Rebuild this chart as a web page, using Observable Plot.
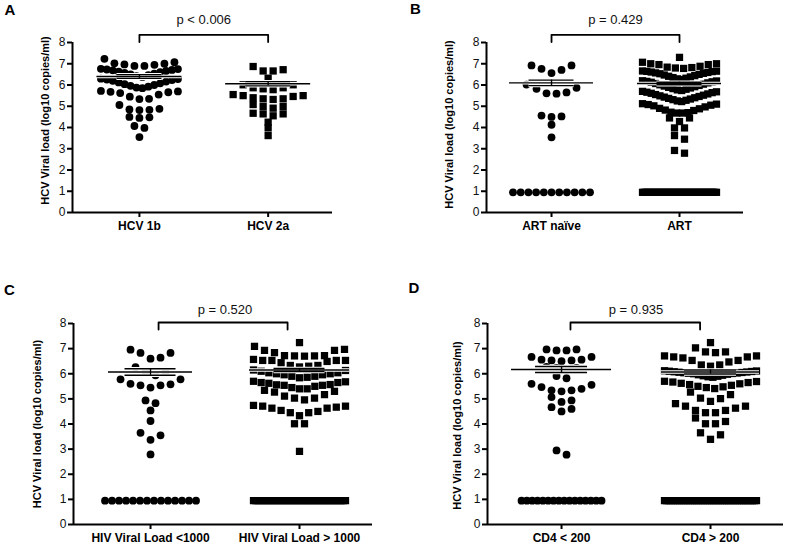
<!DOCTYPE html>
<html><head><meta charset="utf-8">
<script src="https://cdn.jsdelivr.net/npm/d3@7"></script>
<script src="https://cdn.jsdelivr.net/npm/@observablehq/plot@0.6"></script>
<style>
html,body{margin:0;padding:0;background:#fff;}
#wrap{position:relative;width:789px;height:545px;overflow:hidden;font-family:"Liberation Sans",Arial,sans-serif;}
.panel{position:absolute;}
.panel svg{overflow:visible;display:block;}
.panel [aria-label^="x-axis"] text{font-weight:bold;font-size:12px;fill:#000;}
.panel [aria-label^="y-axis"] text{font-size:12px;fill:#111;}
.panel [aria-label^="x-axis"] path,.panel [aria-label^="y-axis"] path,
.panel [aria-label^="x-axis"] line,.panel [aria-label^="y-axis"] line{stroke:#000;stroke-width:2px;}
</style></head>
<body><div id="wrap"></div>
<script>
// ---------- text ----------
const panelLetters = ["A", "B", "C", "D"];
const pLabels = ["p < 0.006", "p = 0.429", "p = 0.520", "p = 0.935"];
const yTitle = "HCV Viral load (log10 copies/ml)";
const yTicks = [0, 1, 2, 3, 4, 5, 6, 7, 8];
const catsA = ["HCV 1b", "HCV 2a"];
const catsB = ["ART naïve", "ART"];
const catsC = ["HIV Viral Load <1000", "HIV Viral Load > 1000"];
const catsD = ["CD4 < 200", "CD4 > 200"];

// ---------- values (log10 copies/ml) ----------
const hcv1b = [3.55, 3.98, 4.07, 4.45, 4.48, 4.50, 4.82, 4.83, 4.85, 4.88, 5.06, 5.34, 5.35, 5.45, 5.55, 5.62, 5.66, 5.68, 5.70, 5.72,
  5.85, 5.88, 5.92, 5.96, 6.00, 6.04, 6.08, 6.12, 6.16, 6.20, 6.23, 6.26, 6.28, 6.30,
  6.38, 6.42, 6.46, 6.50, 6.54, 6.57, 6.60, 6.63, 6.66, 6.69, 6.71, 6.73, 6.75, 6.76,
  6.90, 6.90, 6.95, 6.97, 7.00, 7.02, 7.07, 7.23];
const hcv2a = [3.62, 3.98, 4.25, 4.55, 4.64, 4.64, 4.67, 4.91, 4.99, 4.99, 5.08, 5.32, 5.35, 5.35, 5.40, 5.46, 5.50, 5.50, 5.55,
  5.78, 5.82, 5.87, 5.87, 6.01, 6.01, 6.32, 6.66, 6.66, 6.72, 6.87];

const artNaive = [0.95, 0.95, 0.95, 0.95, 0.95, 0.95, 0.95, 0.95, 0.95, 0.95, 0.95,
  3.54, 4.13, 4.50, 4.52, 4.56, 5.59, 5.61, 5.65, 5.82, 5.87, 6.02, 6.56, 6.71, 6.76, 6.92, 6.92];
const artTreated = [0.95, 0.95, 0.95, 0.95, 0.95, 0.95, 0.95, 0.95, 0.95, 0.95, 0.95, 0.95, 0.95, 0.95, 0.95, 0.95, 0.95, 0.95, 0.95, 0.95,
  0.95, 0.95, 0.95, 0.95, 0.95, 0.95, 0.95, 0.95, 0.95, 0.95, 0.95, 0.95, 0.95, 0.95, 0.95, 0.95, 0.95, 0.95, 0.95, 0.95,
  2.79, 2.92, 3.45, 3.62, 3.98, 3.98, 4.28, 4.45, 4.45,
  4.68, 4.68, 4.70, 4.72, 4.80, 4.82, 4.88, 4.90, 4.97, 5.02, 5.05, 5.08, 5.10, 5.12,
  5.22, 5.25, 5.28, 5.31, 5.34, 5.37, 5.40, 5.43, 5.46, 5.49, 5.52, 5.55, 5.58, 5.61, 5.64, 5.66, 5.68, 5.70,
  5.74, 5.77, 5.80, 5.83, 5.86, 5.89, 5.92, 5.95, 5.98, 6.01, 6.04, 6.07, 6.10, 6.13, 6.15, 6.17, 6.19, 6.20,
  6.26, 6.29, 6.32, 6.35, 6.38, 6.41, 6.44, 6.47, 6.50, 6.53, 6.55, 6.57, 6.59, 6.61, 6.63, 6.64, 6.65, 6.66,
  6.78, 6.80, 6.82, 6.84, 6.88, 6.96, 6.96, 7.00, 7.00, 7.07, 7.30];

const hivLow = [0.95, 0.95, 0.95, 0.95, 0.95, 0.95, 0.95, 0.95, 0.95, 0.95, 0.95, 0.95, 0.95, 0.95,
  2.79, 3.37, 3.55, 3.65, 4.12, 4.54, 4.83, 4.94, 5.45, 5.54, 5.54, 5.58, 5.60, 5.78, 5.78,
  5.94, 6.07, 6.07, 6.26, 6.60, 6.64, 6.83, 6.83, 6.96];
const hivHigh = [0.95, 0.95, 0.95, 0.95, 0.95, 0.95, 0.95, 0.95, 0.95, 0.95, 0.95, 0.95, 0.95, 0.95, 0.95, 0.95, 0.95, 0.95, 0.95, 0.95,
  0.95, 0.95, 0.95, 0.95, 0.95, 0.95, 0.95, 0.95, 0.95, 0.95, 0.95, 0.95, 0.95, 0.95, 0.95, 0.95, 0.95, 0.95, 0.95, 0.95,
  2.91, 4.01, 4.01,
  4.33, 4.45, 4.45, 4.50, 4.54, 4.63, 4.63, 4.67, 4.71, 4.71, 4.74,
  4.96, 5.03, 5.03, 5.11, 5.17, 5.27, 5.30, 5.34,
  5.40, 5.40, 5.45, 5.50, 5.54, 5.54, 5.56, 5.57, 5.62, 5.65, 5.65, 5.68, 5.70,
  5.84, 5.86, 5.90, 5.90, 5.96, 5.96, 6.00, 6.00, 6.04, 6.04, 6.10, 6.13, 6.15,
  6.27, 6.30, 6.33, 6.33, 6.44, 6.49, 6.53, 6.53, 6.53, 6.53, 6.57,
  6.70, 6.71, 6.71, 6.72, 6.72, 6.84, 6.93, 6.93, 6.97, 7.09, 7.24];

const cd4Low = [0.95, 0.95, 0.95, 0.95, 0.95, 0.95, 0.95, 0.95, 0.95, 0.95, 0.95, 0.95, 0.95, 0.95, 0.95, 0.95,
  2.78, 2.95, 4.50, 4.60, 4.67, 4.88, 4.94, 5.07, 5.30, 5.34, 5.34, 5.40, 5.47, 5.56, 5.60,
  5.82, 5.91, 6.17, 6.23, 6.23, 6.27, 6.50, 6.53, 6.53, 6.56, 6.56, 6.67, 6.67, 6.93, 6.93, 6.97, 6.97];
const cd4High = [0.95, 0.95, 0.95, 0.95, 0.95, 0.95, 0.95, 0.95, 0.95, 0.95, 0.95, 0.95, 0.95, 0.95, 0.95, 0.95, 0.95, 0.95, 0.95, 0.95, 0.95, 0.95,
  0.95, 0.95, 0.95, 0.95, 0.95, 0.95, 0.95, 0.95, 0.95, 0.95, 0.95, 0.95, 0.95, 0.95, 0.95, 0.95, 0.95, 0.95, 0.95, 0.95, 0.95, 0.95,
  3.39, 3.57, 3.65, 4.01, 4.01, 4.10, 4.24,
  4.45, 4.45, 4.54, 4.54, 4.63, 4.71, 4.71, 4.81,
  4.90, 5.01, 5.03, 5.17, 5.27,
  5.41, 5.45, 5.48, 5.50, 5.54, 5.57, 5.60, 5.62, 5.65, 5.67, 5.69, 5.70,
  5.86, 5.88, 5.90, 5.92, 5.94, 5.96, 5.98, 6.00, 6.01, 6.02, 6.03, 6.04, 6.05, 6.06, 6.07, 6.08, 6.09, 6.10, 6.11, 6.12,
  6.30, 6.35, 6.35, 6.47, 6.53, 6.53, 6.63, 6.67, 6.67, 6.71, 6.71,
  6.84, 6.87, 6.87, 7.03, 7.24];

// mean and SEM per group
const meanA = [6.40, 6.06], semA = [0.09, 0.10];
const meanB = [6.10, 6.07], semB = [0.13, 0.06];
const meanC = [6.07, 6.15], semC = [0.13, 0.06];
const meanD = [6.17, 6.07], semD = [0.12, 0.08];

// ---------- layout ----------
const layouts = [
  {left:0, top:0, width:340, height:235, mL:72, mR:8, mT:42, mB:23, xDom:[-0.52,1.5], t:0.5, g:0.22, step:10, maxSpan:[77,77],
   meanHalf:[42.5,42.5], semHalf:22.5, br:{y:8.36, drop:8.02, x0:0, x1:1}, pY:9.09, letter:{dx:-62.5, dy:-32.5}, title:{dx:-27.3, dy:-7}},
  {left:400, top:0, width:354, height:235, mL:86, mR:11, mT:42, mB:23, xDom:[-0.508,1.5], t:0.5, g:0.22, step:10, maxSpan:[77,74],
   meanHalf:[42,42], semHalf:22.5, br:{y:8.36, drop:8.02, x0:0, x1:1}, pY:9.09, letter:{dx:-71, dy:-33.3}, title:{dx:-37, dy:-3}},
  {left:0, top:281, width:380, height:264, mL:73, mR:8, mT:42, mB:21, xDom:[-0.517,1.49], t:0.42, g:0.2, step:10, maxSpan:[91,92],
   meanHalf:[42,50], semHalf:25.5, br:{y:8.04, drop:7.76, x0:0.054, x1:0.92}, pY:8.56, letter:{dx:-64, dy:-33.5}, title:{dx:-36.3, dy:0}},
  {left:400, top:281, width:389, height:264, mL:87, mR:6, mT:42, mB:21, xDom:[-0.497,1.49], t:0.42, g:0.2, step:10, maxSpan:[80,92],
   meanHalf:[50,49], semHalf:26, br:{y:8.04, drop:7.76, x0:0.06, x1:0.93}, pY:8.56, letter:{dx:-73.7, dy:-35}, title:{dx:-30.3, dy:1.5}}
];

const panels = [
  {cats:catsA, groups:[hcv1b, hcv2a], means:meanA, sems:semA},
  {cats:catsB, groups:[artNaive, artTreated], means:meanB, sems:semB},
  {cats:catsC, groups:[hivLow, hivHigh], means:meanC, sems:semC},
  {cats:catsD, groups:[cd4Low, cd4High], means:meanD, sems:semD}
];

// scatter-dot layout: values of similar size share a row, spread horizontally (lowest in the middle)
function spread(values, gi, L, unitPx) {
  const sorted = values.slice().sort((a, b) => a - b);
  const rows = [];
  let row = null;
  for (const v of sorted) {
    if (row && v - row[row.length - 1] <= L.g && v - row[0] <= L.t) row.push(v);
    else { row = [v]; rows.push(row); }
  }
  const out = [];
  for (const r of rows) {
    const n = r.length;
    const step = n > 1 ? Math.min(L.step, L.maxSpan[gi] / (n - 1)) : 0;
    const slots = d3.range(n).map(j => j - (n - 1) / 2).sort((a, b) => Math.abs(a) - Math.abs(b) || b - a);
    r.forEach((v, k) => out.push({x: gi + slots[k] * step / unitPx, y: v}));
  }
  return out;
}

const wrap = document.getElementById("wrap");
panels.forEach((P, pi) => {
  const L = layouts[pi];
  const unitPx = (L.width - L.mL - L.mR) / (L.xDom[1] - L.xDom[0]);
  const circles = spread(P.groups[0], 0, L, unitPx);
  const squares = spread(P.groups[1], 1, L, unitPx);
  const stats = P.means.map((m, i) => ({x: i, m, s: P.sems[i], lh: L.meanHalf[i] / unitPx, sh: L.semHalf / unitPx}));
  const bracket = [{x: L.br.x0, y: L.br.drop}, {x: L.br.x0, y: L.br.y}, {x: L.br.x1, y: L.br.y}, {x: L.br.x1, y: L.br.drop}];
  const errMarks = (stroke, sw) => [
    Plot.ruleY(stats, {y: "m", x1: d => d.x - d.lh, x2: d => d.x + d.lh, stroke, strokeWidth: sw}),
    Plot.ruleY(stats, {y: d => d.m + d.s, x1: d => d.x - d.sh, x2: d => d.x + d.sh, stroke, strokeWidth: sw}),
    Plot.ruleY(stats, {y: d => d.m - d.s, x1: d => d.x - d.sh, x2: d => d.x + d.sh, stroke, strokeWidth: sw}),
    Plot.ruleX(stats, {x: "x", y1: d => d.m - d.s, y2: d => d.m + d.s, stroke, strokeWidth: sw})
  ];
  const chart = Plot.plot({
    width: L.width, height: L.height,
    marginLeft: L.mL, marginRight: L.mR, marginTop: L.mT, marginBottom: L.mB,
    style: {fontFamily: '"Liberation Sans", Arial, sans-serif', fontSize: "12px", background: "transparent", overflow: "visible"},
    x: {domain: L.xDom, ticks: [0, 1], tickFormat: i => P.cats[i], tickSize: 5, tickPadding: 4, label: null},
    y: {domain: [0, 8], ticks: yTicks, tickSize: 5, tickPadding: 2, label: null},
    marks: [
      Plot.dot(circles, {x: "x", y: "y", symbol: "circle", r: 3.9, fill: "#000", stroke: "none"}),
      Plot.dot(squares, {x: "x", y: "y", symbol: "square", r: 4.1, fill: "#000", stroke: "none"}),
      ...errMarks("#fff", 3.4),
      ...errMarks("#000", 1.4),
      Plot.ruleY([0], {stroke: "#000", strokeWidth: 2}),
      Plot.ruleX([L.xDom[0]], {stroke: "#000", strokeWidth: 2}),
      Plot.line(bracket, {x: "x", y: "y", stroke: "#000", strokeWidth: 1.8}),
      Plot.text([{x: 0.5, y: L.pY, t: pLabels[pi]}], {x: "x", y: "y", text: "t", fontSize: 13, fill: "#111"}),
      Plot.text([yTitle], {frameAnchor: "left", textAnchor: "middle", lineAnchor: "middle", rotate: -90, dx: L.title.dx, dy: L.title.dy, text: d => d, fontWeight: "bold", fontSize: 11, fill: "#000"}),
      Plot.text([panelLetters[pi]], {frameAnchor: "top-left", textAnchor: "middle", lineAnchor: "middle", dx: L.letter.dx, dy: L.letter.dy, text: d => d, fontWeight: "bold", fontSize: 15, fill: "#000"})
    ]
  });
  const div = document.createElement("div");
  div.className = "panel";
  div.style.left = L.left + "px";
  div.style.top = L.top + "px";
  div.appendChild(chart);
  wrap.appendChild(div);
});
</script>
</body></html>
